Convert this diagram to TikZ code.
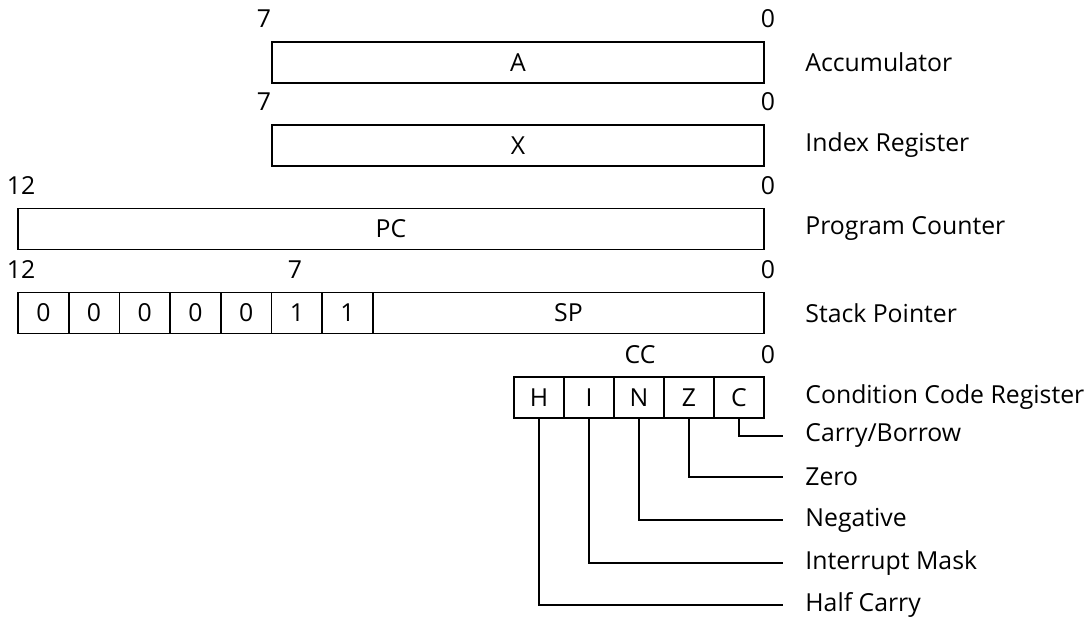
\documentclass[tikz,border=0pt]{standalone}
\usepackage{fontspec}
\setmainfont{Open Sans}
\usepackage{tikz}
\usetikzlibrary{positioning}

\begin{document}
\begin{tikzpicture}[x=0.5pt, y=-0.5pt,
        reg/.style={draw, line width=0.9pt, minimum height=20.5pt,
                    inner sep=0pt, outer sep=0pt, anchor=west,
                    font=\fontsize{12.4}{14}\selectfont},
        bitno/.style={font=\fontsize{12.4}{14}\selectfont, inner sep=0pt},
        regname/.style={anchor=west, inner xsep=11pt, inner ysep=0pt,
                     font=\fontsize{12.4}{14}\selectfont},
        wire/.style={line width=0.9pt}
      ]
        \useasboundingbox (0,0) rectangle (1092,619);
        % registers
        \node[reg, minimum width=246pt] (A)  at (272,62.5) {A};
        \node[reg, minimum width=246pt] (X)  at (272,145.5) {X};
        \node[reg, minimum width=373pt] (PC) at (18,229) {PC};
        \foreach \b [count=\i] in {0,0,0,0,0,1,1}
          \node[reg, minimum width=25.35pt] (s\i) at ({18+50.7*(\i-1)},313) {\b};
        \node[reg, minimum width=195.5pt] (SP) [right=0pt of s7] {SP};
        \foreach \f [count=\i] in {H,I,N,Z,C}
          \node[reg, minimum width=25pt] (cc\f) at ({514+50*(\i-1)},397.5) {\f};
        % bit numbers
        \node[bitno] (a7)  at (264,19)  {7};
        \node[bitno] (a0)  at (768,19)  {0};
        \node[bitno] (x7)  at (264,102) {7};
        \node[bitno] (x0)  at (768,102) {0};
        \node[bitno] (p12) at (21,186)  {12};
        \node[bitno] (p0)  at (768,186) {0};
        \node[bitno] (s12) at (21,270)  {12};
        \node[bitno] (s7b) at (295,270) {7};
        \node[bitno] (s0)  at (768,270) {0};
        \node[bitno] (ccl) at (640,355) {CC};
        \node[bitno] (c0)  at (768,355) {0};
        % names
        \node[regname] (nA)  at (783,62.5)  {Accumulator};
        \node[regname] (nX)  at (783,145.5) {Index Register};
        \node[regname] (nPC) at (783,229)   {Program Counter};
        \node[regname] (nSP) at (783,313)   {Stack Pointer};
        \node[regname] (nCC) at (783,397.5) {Condition Code Register};
        \node[regname] (fC)  at (783,436)   {Carry/Borrow};
        \node[regname] (fZ)  at (783,477)   {Zero};
        \node[regname] (fN)  at (783,520)   {Negative};
        \node[regname] (fI)  at (783,563)   {Interrupt Mask};
        \node[regname] (fH)  at (783,605)   {Half Carry};
        % flag lines
        \draw[wire] (ccC.south) |- (fC.west);
        \draw[wire] (ccZ.south) |- (fZ.west);
        \draw[wire] (ccN.south) |- (fN.west);
        \draw[wire] (ccI.south) |- (fI.west);
        \draw[wire] (ccH.south) |- (fH.west);
      \end{tikzpicture}
\end{document}
